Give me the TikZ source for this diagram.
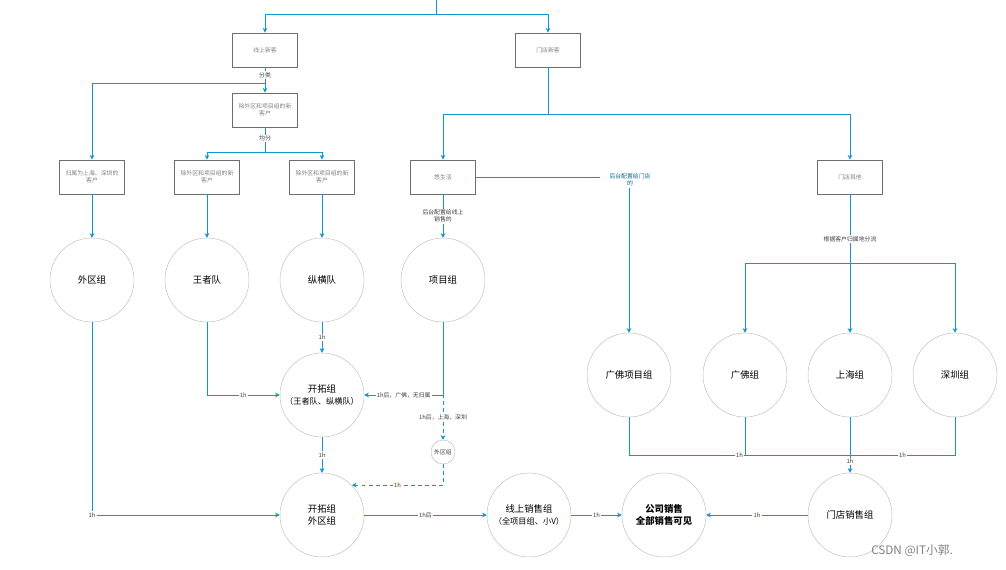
\documentclass[tikz,border=0pt]{standalone}
\usepackage{fontspec}
\setmainfont{Noto Sans CJK SC}
\usetikzlibrary{arrows.meta,positioning}
\definecolor{flowblue}{RGB}{18,150,210}
\definecolor{boxgray}{RGB}{110,110,110}
\definecolor{ringgray}{RGB}{190,190,190}
\tikzset{
  box/.style={draw=boxgray, thick, minimum width=65*0.03cm, minimum height=34*0.03cm, align=center, font=\fontsize{5}{6}\selectfont, text=gray},
  grp/.style={circle, draw=ringgray, minimum size=84*0.03cm, inner sep=0pt, align=center, font=\fontsize{8}{10}\selectfont},
  arrow/.style={flowblue, thick, -{Stealth[length=4pt,width=4pt]}},
  line/.style={flowblue, thick},
  lbl/.style={fill=white, inner sep=1pt, font=\fontsize{5}{6}\selectfont, text=darkgray, align=center}
}
\begin{document}
\begin{tikzpicture}[x=0.03cm,y=-0.03cm]
\useasboundingbox (0,0) rectangle (1006,570);
% boxes
\node[box] (online) at (265,50) {线上新客};
\node[box] (store) at (548,50) {门店新客};
\node[box] (rest) at (265,110) {除外区和项目组的新\\客户};
\node[box] (shsz) at (92,177) {归属为上海、深圳的\\客户};
\node[box] (restA) at (207,177) {除外区和项目组的新\\客户};
\node[box] (restB) at (322,177) {除外区和项目组的新\\客户};
\node[box] (life) at (443,177) {悠生活};
\node[box] (other) at (850,177) {门店其他};
% circles
\node[grp] (outer) at (92,280) {外区组};
\node[grp] (king) at (207,280) {王者队};
\node[grp] (cross) at (322,280) {纵横队};
\node[grp] (proj) at (443,280) {项目组};
\node[grp] (gfproj) at (629,375) {广佛项目组};
\node[grp] (gf) at (745,375) {广佛组};
\node[grp] (sh) at (850,375) {上海组};
\node[grp] (sz) at (955,375) {深圳组};
\node[grp] (pioneer) at (322,395) {开拓组\\{\fontsize{7}{9}\selectfont（王者队、纵横队）}};
\node[circle, draw=ringgray, minimum size=24*0.03cm, inner sep=0pt, font=\fontsize{5}{6}\selectfont, text=darkgray] (small) at (443,452) {外区组};
\node[grp] (pouter) at (322,515) {开拓组\\外区组};
\node[grp] (sales) at (529,515) {线上销售组\\{\fontsize{7}{9}\selectfont（全项目组、小V）}};
\node[grp, font=\bfseries\fontsize{8}{10}\selectfont] (company) at (664,515) {公司销售\\全部销售可见};
\node[grp] (shop) at (850,515) {门店销售组};
\coordinate (top) at (436,0);
% top split
\draw[line] (top) -- (436,14);
\draw[arrow] (436,14) -| (online);
\draw[arrow] (436,14) -| (store);
% online
\draw[arrow] (online) -- node[lbl, pos=0.3] {分类} (rest);
\draw[arrow] (265,83) -| (shsz);
\draw[arrow] (rest) -- node[lbl, pos=0.45] {均分} (265,152) -| (restA);
\draw[arrow] (265,152) -| (restB);
\draw[arrow] (shsz) -- (outer);
\draw[arrow] (restA) -- (king);
\draw[arrow] (restB) -- (cross);
% store
\draw[line] (store) -- (548,114);
\draw[arrow] (548,114) -| (life);
\draw[arrow] (548,114) -| (other);
\draw[arrow] (life) -- node[lbl] {后台配置给线上\\销售的} (proj);
\draw[line] (life) -- (600,177);
\node[lbl, text=flowblue!70!black] (toshop) at (630,180) {后台配置给门店\\的};
\draw[arrow] (toshop.south -| gfproj) -- (gfproj);
\draw[line] (other) -- node[lbl, pos=0.65] {根据客户归属地分流} (850,263);
\draw[arrow] (745,263) -| (gf);
\draw[arrow] (850,263) -- (sh);
\draw[arrow] (745,263) -| (sz);
% to pioneer
\draw[arrow] (cross) -- node[lbl] {1h} (pioneer);
\draw[arrow] (king) |- node[lbl, pos=0.75] {1h} (pioneer);
\draw[arrow] (proj) |- node[lbl, pos=0.75] {1h后，广佛，无归属} (pioneer);
\draw[arrow, dashed] (443,394) -- node[lbl] {1h后，上海，深圳} (small);
\draw[arrow, dashed] (small) |- node[lbl, pos=0.75] {1h} (pouter.45);
\draw[arrow] (pioneer) -- node[lbl] {1h} (pouter);
\draw[arrow] (outer) |- node[lbl, pos=0.5] {1h} (pouter);
% bottom row
\draw[arrow] (pouter) -- node[lbl] {1h后} (sales);
\draw[arrow] (sales) -- node[lbl] {1h} (company);
\draw[arrow] (shop) -- node[lbl] {1h} (company);
\draw[line] (gfproj) |- node[lbl, pos=0.75] {1h} (850,455);
\draw[line] (gf) |- (850,455);
\draw[line] (sz) |- node[lbl, pos=0.75] {1h} (850,455);
\draw[arrow] (sh) -- node[lbl, pos=0.8] {1h} (shop);
\node[font=\fontsize{10}{12}\selectfont, text=gray] (mark) at (912,551) {CSDN @IT小郭.};
\end{tikzpicture}
\end{document}
